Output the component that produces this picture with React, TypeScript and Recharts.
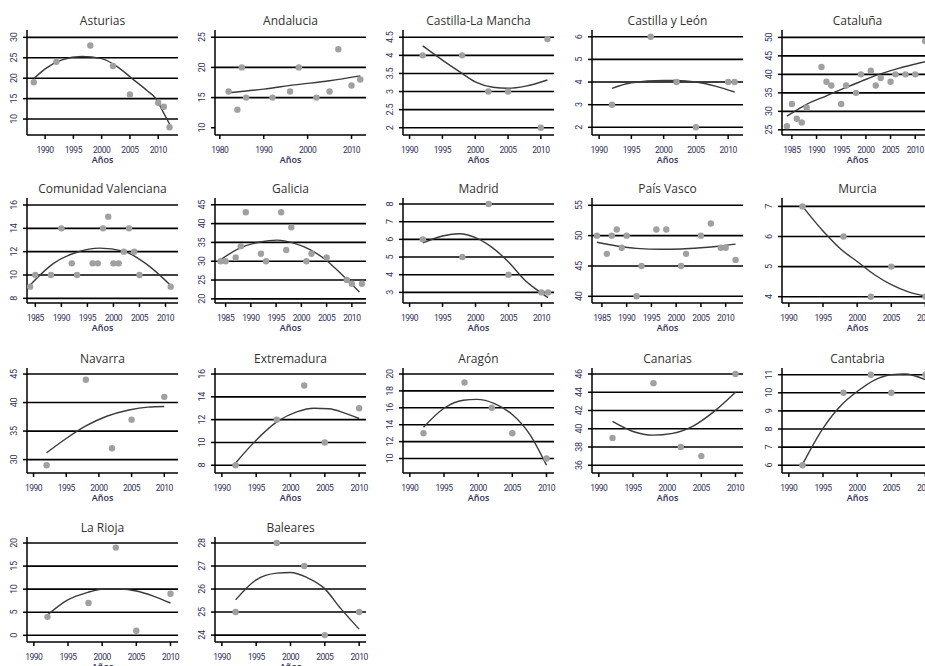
import React from "react";
import { ComposedChart, Scatter, Line, XAxis, YAxis, ReferenceLine } from "recharts";

type Pair = [number, number];

const asturiasPts: Pair[] = [[1988, 19], [1992, 24], [1998, 28], [2002, 23], [2005, 16], [2010, 14], [2011, 13], [2012, 8]];
const asturiasFit: Pair[] = [[1988, 19.9], [1990, 22.3], [1993, 24.5], [1996.5, 25.3], [2000, 24.8], [2003, 22.6], [2005.3, 20], [2008, 17], [2009.6, 15], [2011, 11.4], [2012, 8.8]];

const andaluciaPts: Pair[] = [[1982, 16], [1984, 13], [1985, 20], [1986, 15], [1992, 15], [1996, 16], [1998, 20], [2002, 15], [2005, 16], [2007, 23], [2010, 17], [2012, 18]];
const andaluciaFit: Pair[] = [[1982, 15.8], [1990, 16.4], [1997, 17.1], [2005, 17.8], [2012, 18.6]];

const clmPts: Pair[] = [[1992, 4], [1998, 4], [2002, 3], [2005, 3], [2010, 2], [2011, 4.45]];
const clmFit: Pair[] = [[1992, 4.26], [1995, 3.87], [1997.6, 3.55], [2000, 3.27], [2002.7, 3.12], [2005, 3.09], [2007.7, 3.15], [2011, 3.32]];

const cylPts: Pair[] = [[1992, 3], [1998, 6], [2002, 4], [2005, 2], [2010, 4], [2011, 4]];
const cylFit: Pair[] = [[1992, 3.72], [1995, 3.97], [2000, 4.07], [2002, 4.07], [2005, 4.0], [2008, 3.82], [2011, 3.56]];

const catalunaPts: Pair[] = [[1984, 26], [1985, 32], [1986, 28], [1987, 27], [1988, 31], [1991, 42], [1992, 38], [1993, 37], [1995, 32], [1996, 37], [1998, 35], [1999, 40], [2001, 41], [2002, 37], [2003, 39], [2005, 38], [2006, 40], [2008, 40], [2010, 40], [2012, 49]];
const catalunaFit: Pair[] = [[1984, 28.7], [1988, 31.9], [1992, 34.2], [1995.5, 36.2], [1999, 38.1], [2002.2, 39.8], [2006.3, 41.5], [2012, 43.4]];

const valenciaPts: Pair[] = [[1984, 9], [1985, 10], [1988, 10], [1990, 14], [1992, 11], [1993, 10], [1996, 11], [1997, 11], [1998, 14], [1999, 15], [2000, 11], [2001, 11], [2002, 12], [2003, 14], [2004, 12], [2005, 10], [2011, 9]];
const valenciaFit: Pair[] = [[1984, 9.15], [1988.5, 11.0], [1993, 11.95], [1997.4, 12.3], [2001.9, 12.05], [2006.3, 10.95], [2011, 9.1]];

const galiciaPts: Pair[] = [[1984, 30], [1985, 30], [1987, 31], [1988, 34], [1989, 43], [1992, 32], [1993, 30], [1996, 43], [1997, 33], [1998, 39], [2001, 30], [2002, 32], [2005, 31], [2009, 25], [2010, 24], [2012, 24]];
const galiciaFit: Pair[] = [[1984, 30.4], [1988, 33.6], [1991.8, 35.1], [1995.2, 35.6], [1998.5, 34.8], [2001.8, 33], [2004.8, 30.4], [2008.5, 25.8], [2011.5, 21.8]];

const madridPts: Pair[] = [[1992, 6], [1998, 5], [2002, 8], [2005, 4], [2010, 3], [2011, 3]];
const madridFit: Pair[] = [[1992, 5.8], [1995, 6.19], [1997.6, 6.32], [2000, 6.1], [2002.6, 5.52], [2005, 4.72], [2007.6, 3.65], [2009.5, 3.1], [2011, 2.7]];

const vascoPts: Pair[] = [[1984, 50], [1986, 47], [1987, 50], [1988, 51], [1989, 48], [1990, 50], [1992, 40], [1993, 45], [1996, 51], [1998, 51], [2001, 45], [2002, 47], [2005, 50], [2007, 52], [2009, 48], [2010, 48], [2012, 46]];
const vascoFit: Pair[] = [[1984, 48.9], [1988, 48.3], [1992, 47.9], [1997, 47.75], [2001, 47.8], [2005, 48.0], [2009, 48.3], [2012, 48.6]];

const murciaPts: Pair[] = [[1992, 7], [1998, 6], [2002, 4], [2005, 5], [2010, 4]];
const murciaFit: Pair[] = [[1992, 7.0], [1995, 6.18], [1997.7, 5.56], [2000, 5.17], [2002.6, 4.72], [2005, 4.4], [2007.5, 4.16], [2010, 4.02]];

const navarraPts: Pair[] = [[1992, 29], [1998, 44], [2002, 32], [2005, 37], [2010, 41]];
const navarraFit: Pair[] = [[1992, 31.2], [1995, 33.7], [1998, 35.9], [2001.2, 37.6], [2004.6, 38.7], [2007.5, 39.2], [2010, 39.3]];

const extremaduraPts: Pair[] = [[1992, 8], [1998, 12], [2002, 15], [2005, 10], [2010, 13]];
const extremaduraFit: Pair[] = [[1992, 8.2], [1995, 10.2], [1998, 11.8], [2001, 12.7], [2003.4, 13.0], [2005.6, 12.95], [2007.8, 12.6], [2010, 12.1]];

const aragonPts: Pair[] = [[1992, 13], [1998, 19], [2002, 16], [2005, 13], [2010, 10]];
const aragonFit: Pair[] = [[1992, 13.7], [1995, 15.95], [1997.8, 16.9], [1999.8, 17.0], [2002.4, 16.5], [2005, 15.2], [2007.6, 12.8], [2010, 9.2]];

const canariasPts: Pair[] = [[1992, 39], [1998, 45], [2002, 38], [2005, 37], [2010, 46]];
const canariasFit: Pair[] = [[1992, 40.8], [1995, 39.7], [1997.9, 39.3], [2000.8, 39.5], [2003.8, 40.3], [2007.2, 42.1], [2010, 44.0]];

const cantabriaPts: Pair[] = [[1992, 6], [1998, 10], [2002, 11], [2005, 10], [2010, 11]];
const cantabriaFit: Pair[] = [[1992, 6.05], [1995, 8.04], [1997.7, 9.33], [2000, 10.07], [2002.6, 10.72], [2005, 11.0], [2007, 11.04], [2010, 10.72]];

const riojaPts: Pair[] = [[1992, 4], [1998, 7], [2002, 19], [2005, 1], [2010, 9]];
const riojaFit: Pair[] = [[1992, 4.4], [1994.9, 7.6], [1997.9, 9.3], [2000.2, 10.0], [2002.6, 10.0], [2005, 9.6], [2007.5, 8.5], [2010, 7.0]];

const balearesPts: Pair[] = [[1992, 25], [1998, 28], [2002, 27], [2005, 24], [2010, 25]];
const balearesFit: Pair[] = [[1992, 25.53], [1995, 26.4], [1998, 26.69], [2000, 26.72], [2002.4, 26.5], [2004.9, 26.04], [2007.3, 25.16], [2010, 24.26]];

const years90 = [1990, 1995, 2000, 2005, 2010];
const years85 = [1985, 1990, 1995, 2000, 2005, 2010];
const years80 = [1980, 1990, 2000, 2010];

const panels = [
  { name: "Asturias", pts: asturiasPts, fit: asturiasFit, xTicks: years90, yTicks: [10, 15, 20, 25, 30], grid: [10, 15, 20, 25, 30], x: [1986.8, 2013.5], y: [6.1, 31.8] },
  { name: "Andalucia", pts: andaluciaPts, fit: andaluciaFit, xTicks: years80, yTicks: [10, 15, 20, 25], grid: [15, 20, 25], x: [1978.9, 2013.3], y: [8.8, 26.2] },
  { name: "Castilla-La Mancha", pts: clmPts, fit: clmFit, xTicks: years90, yTicks: [2, 2.5, 3, 3.5, 4, 4.5], grid: [2, 2.5, 3, 3.5, 4, 4.5], x: [1989, 2012], y: [1.8, 4.7] },
  { name: "Castilla y León", pts: cylPts, fit: cylFit, xTicks: years90, yTicks: [2, 3, 4, 5, 6], grid: [2, 3, 4, 5, 6], x: [1988.9, 2012.3], y: [1.66, 6.3] },
  { name: "Cataluña", pts: catalunaPts, fit: catalunaFit, xTicks: years85, yTicks: [25, 30, 35, 40, 45, 50], grid: [25, 30, 35, 40, 45, 50], x: [1983, 2013.6], y: [23.6, 52] },
  { name: "Comunidad Valenciana", pts: valenciaPts, fit: valenciaFit, xTicks: years85, yTicks: [8, 10, 12, 14, 16], grid: [8, 10, 12, 14, 16], x: [1983.4, 2012.4], y: [7.6, 16.6] },
  { name: "Galicia", pts: galiciaPts, fit: galiciaFit, xTicks: years85, yTicks: [20, 25, 30, 35, 40, 45], grid: [20, 25, 30, 35, 40, 45], x: [1982.9, 2012.8], y: [18.9, 46.8] },
  { name: "Madrid", pts: madridPts, fit: madridFit, xTicks: years90, yTicks: [3, 4, 5, 6, 7, 8], grid: [3, 4, 5, 6, 7, 8], x: [1989, 2011.9], y: [2.4, 8.34] },
  { name: "País Vasco", pts: vascoPts, fit: vascoFit, xTicks: years85, yTicks: [40, 45, 50, 55], grid: [40, 45, 50, 55], x: [1983, 2013.5], y: [38.9, 56.2] },
  { name: "Murcia", pts: murciaPts, fit: murciaFit, xTicks: years90, yTicks: [4, 5, 6, 7], grid: [4, 5, 6, 7], x: [1989, 2011.1], y: [3.79, 7.28] },
  { name: "Navarra", pts: navarraPts, fit: navarraFit, xTicks: years90, yTicks: [30, 35, 40, 45], grid: [30, 35, 40, 45], x: [1989, 2012.1], y: [27.65, 46.06] },
  { name: "Extremadura", pts: extremaduraPts, fit: extremaduraFit, xTicks: years90, yTicks: [8, 10, 12, 14, 16], grid: [8, 10, 12, 14, 16], x: [1989, 2011], y: [7.32, 16.53] },
  { name: "Aragón", pts: aragonPts, fit: aragonFit, xTicks: years90, yTicks: [10, 12, 14, 16, 18, 20], grid: [10, 12, 14, 16, 18, 20], x: [1989, 2011.1], y: [8.29, 20.71] },
  { name: "Canarias", pts: canariasPts, fit: canariasFit, xTicks: years90, yTicks: [36, 38, 40, 42, 44, 46], grid: [36, 38, 40, 42, 44, 46], x: [1989, 2011.1], y: [35.15, 46.66] },
  { name: "Cantabria", pts: cantabriaPts, fit: cantabriaFit, xTicks: years90, yTicks: [6, 7, 8, 9, 10, 11], grid: [6, 7, 8, 9, 10, 11], x: [1989, 2011.1], y: [5.57, 11.37] },
  { name: "La Rioja", pts: riojaPts, fit: riojaFit, xTicks: years90, yTicks: [0, 5, 10, 15, 20], grid: [0, 5, 10, 15, 20], x: [1989, 2011.1], y: [-1.45, 21.3] },
  { name: "Baleares", pts: balearesPts, fit: balearesFit, xTicks: years90, yTicks: [24, 25, 26, 27, 28], grid: [24, 25, 26, 27, 28], x: [1989, 2011], y: [23.7, 28.26] },
];

const COLS = [27, 215, 403, 592, 782];
const ROWS = [30, 198, 368, 537];
const PW = 151;
const PH = 105;
const TXT = "#30305a";

const XTick = (props: any) => (
  <text x={props.x} y={props.y + 12} textAnchor="middle" fontSize={8.5} letterSpacing={-0.5} fontFamily="Roboto" fill={TXT}>
    {props.payload.value}
  </text>
);

const YTick = (props: any) => (
  <text transform={`translate(${props.x - 4},${props.y}) rotate(-90)`} textAnchor="middle" fontSize={9} letterSpacing={-0.3} fontFamily="Roboto" fill={TXT}>
    {props.payload.value}
  </text>
);

const Dot = (props: any) => <circle cx={props.cx} cy={props.cy} r={3.2} fill="#a0a0a0" />;

function Panel({ p, i }: { p: any; i: number }) {
  const left = COLS[i % 5] - 27;
  const top = ROWS[Math.floor(i / 5)] - 30;
  const pts = p.pts.map(([x, y]: Pair) => ({ x, y }));
  const fit = p.fit.map(([x, y]: Pair) => ({ x, y }));
  return (
    <div style={{ position: "absolute", left, top, width: 190, height: 168 }}>
      <div style={{ position: "absolute", left: 27, top: 13, width: PW, textAlign: "center", fontSize: 12, lineHeight: "16px", color: "#333", fontFamily: "Open Sans" }}>
        {p.name}
      </div>
      <div style={{ position: "absolute", left: 27, top: 30 + PH + 19, width: PW, textAlign: "center", fontSize: 9, lineHeight: "12px", fontWeight: 600, color: TXT, fontFamily: "Open Sans" }}>
        Años
      </div>
      <ComposedChart width={190} height={168} margin={{ top: 30, right: 12, bottom: 0, left: 0 }}>
        <XAxis type="number" dataKey="x" domain={p.x} ticks={p.xTicks} interval={0} allowDataOverflow height={33}
          tickSize={4} tickMargin={2} tick={XTick} stroke="#000" strokeWidth={1.5} />
        <YAxis type="number" dataKey="y" domain={p.y} ticks={p.yTicks} interval={0} allowDataOverflow width={27}
          tickSize={4} tickMargin={2} tick={YTick} stroke="#000" strokeWidth={1.5} />
        {p.grid.map((v: number) => (
          <ReferenceLine key={v} y={v} stroke="#000" strokeWidth={1.6} />
        ))}
        <Scatter data={pts} shape={Dot} isAnimationActive={false} />
        <Line data={fit} dataKey="y" type="monotone" dot={false} activeDot={false} stroke="#3a3a3a" strokeWidth={1.4} isAnimationActive={false} />
      </ComposedChart>
    </div>
  );
}

export default function App() {
  return (
    <div style={{ position: "absolute", left: 0, top: 0, width: 925, height: 666, overflow: "hidden", background: "#fff" }}>
      {panels.map((p, i) => (
        <Panel key={p.name} p={p} i={i} />
      ))}
    </div>
  );
}
